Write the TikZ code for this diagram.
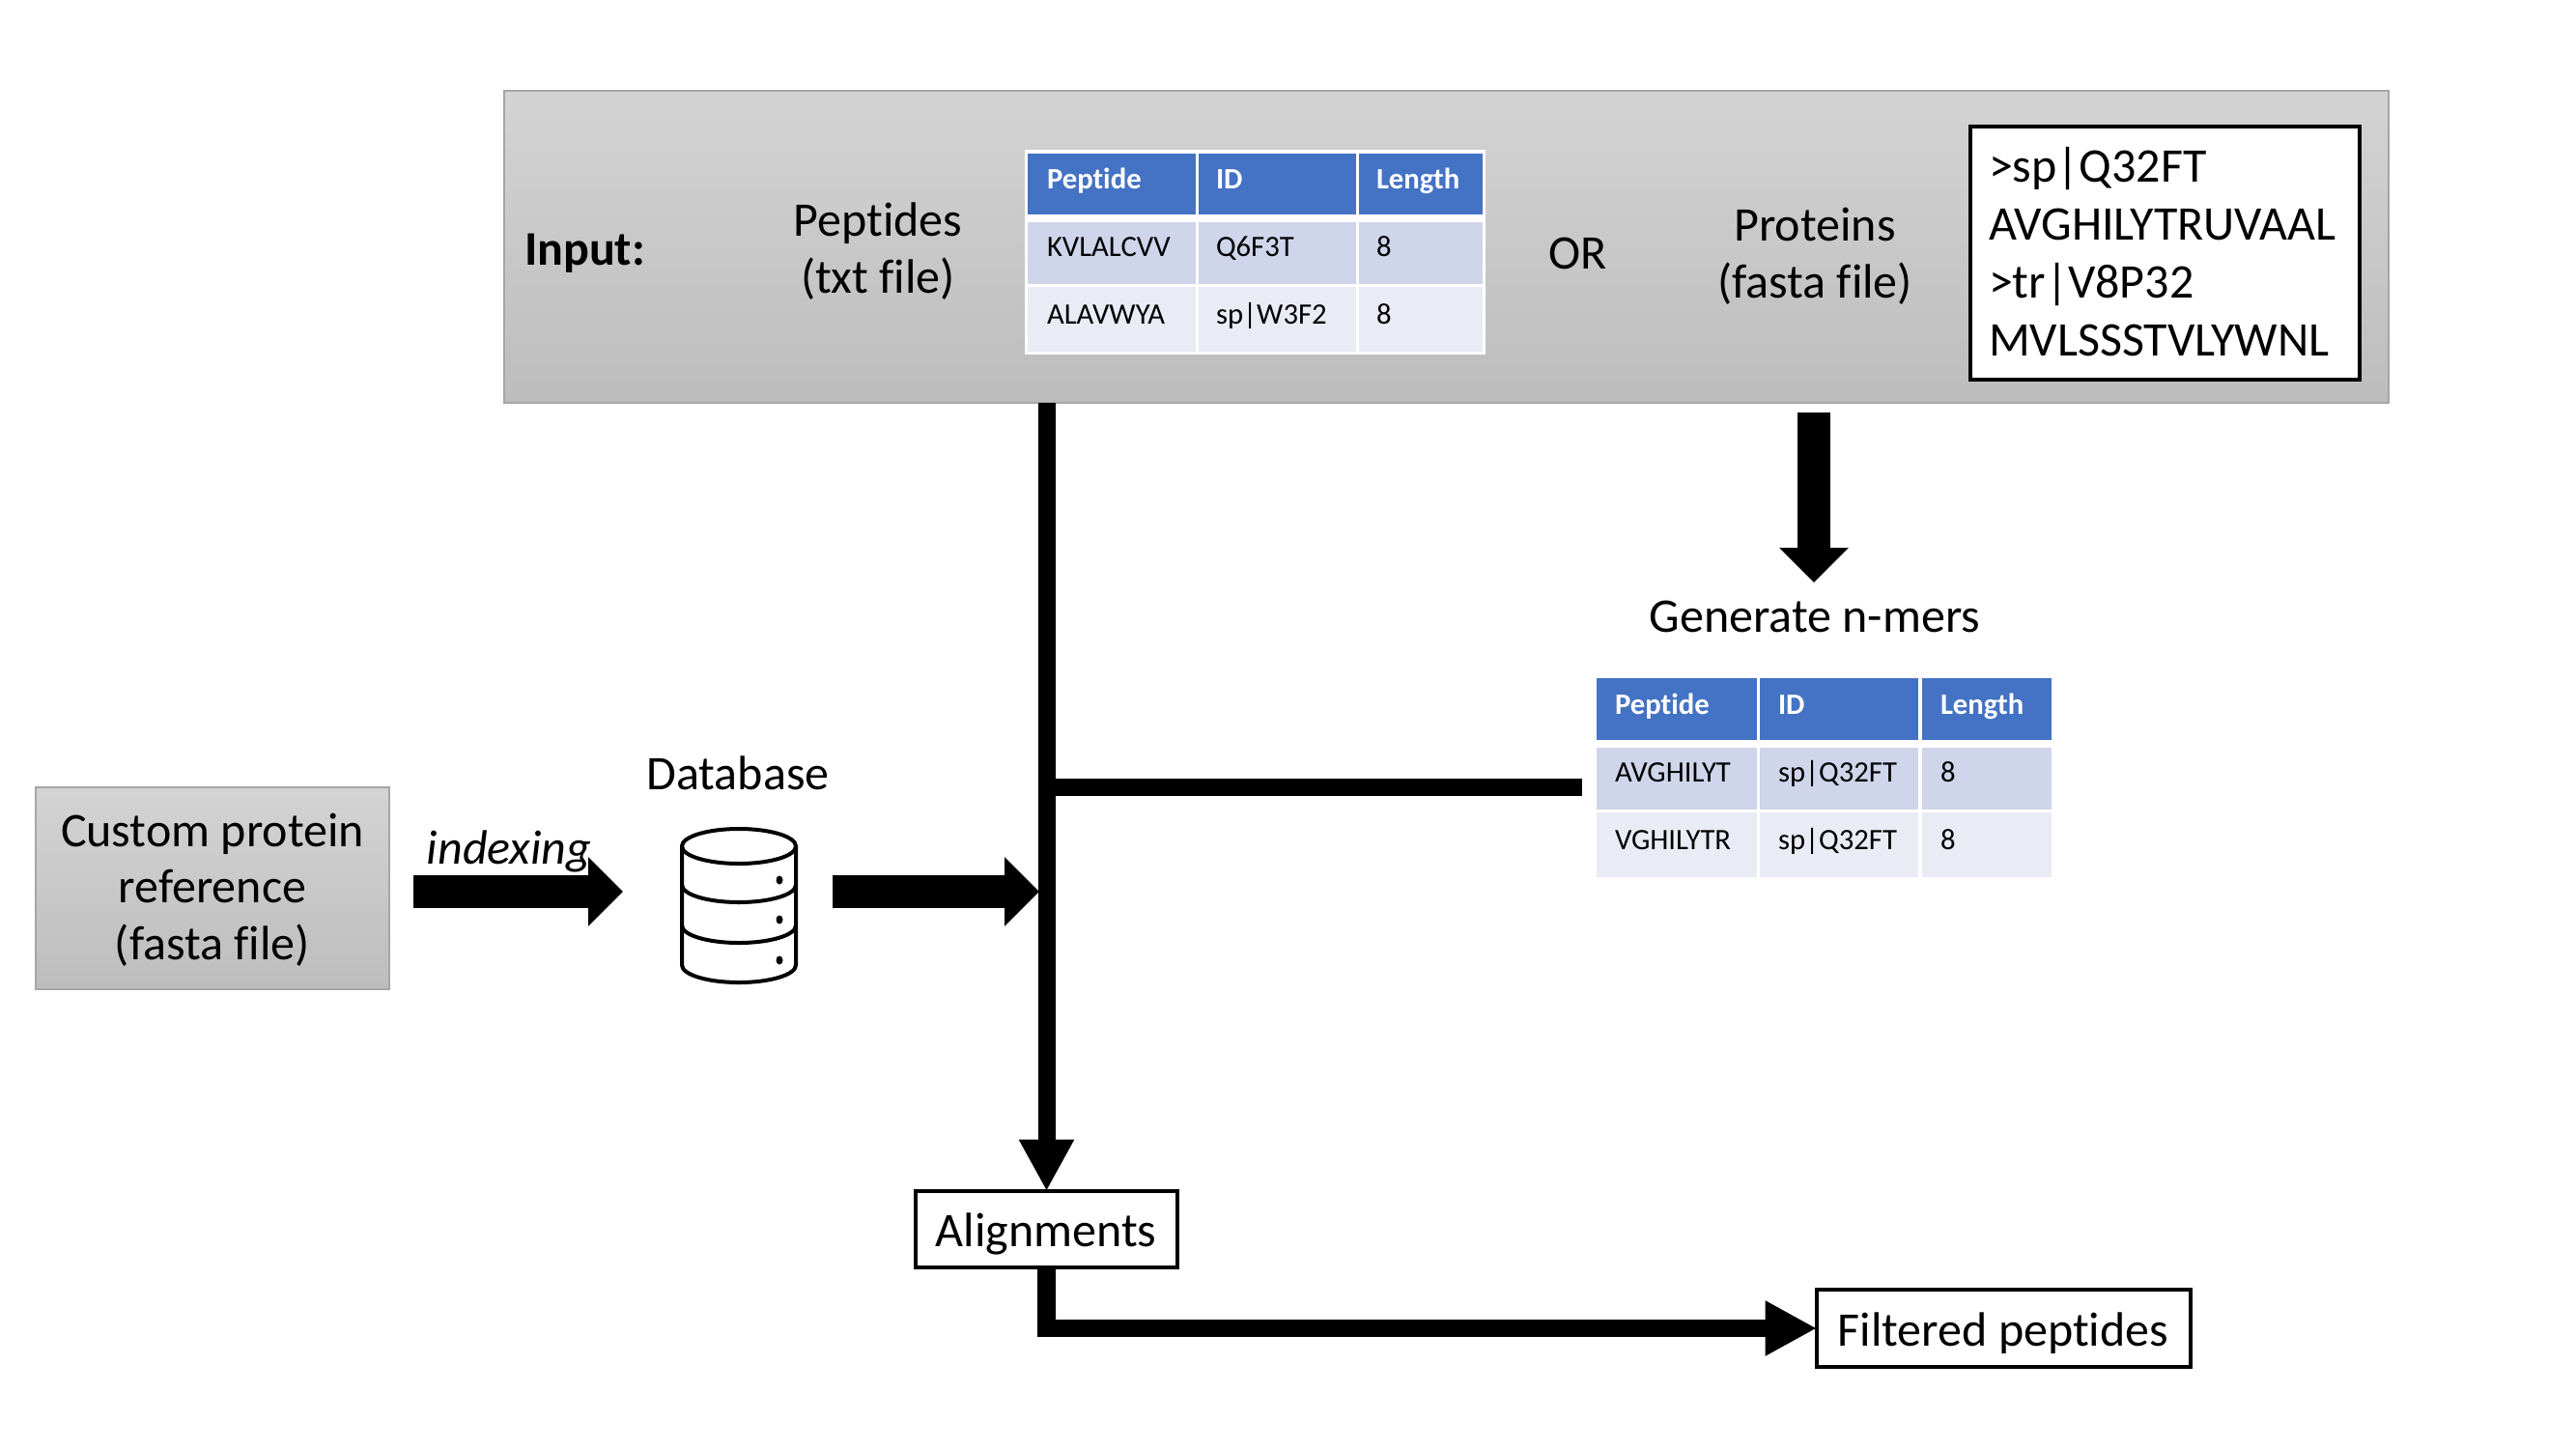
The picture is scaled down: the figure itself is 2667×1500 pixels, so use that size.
\documentclass[tikz,border=0pt]{standalone}
\usepackage{fontspec}
\setmainfont[Ligatures=NoCommon]{Carlito}
\usetikzlibrary{arrows.meta,shadings}
\definecolor{hdr}{HTML}{4472C4}
\definecolor{rowa}{HTML}{CFD5EA}
\definecolor{rowb}{HTML}{E9EBF5}
\newcommand{\pxbox}[6]{\node[#2,minimum width={(#5-#3)*0.75pt},minimum height={(#6-#4)*0.75pt}] (#1) at ({(#3+#5)/2},{(#4+#6)/2}) {};}
\tikzset{
  x=0.75pt,y=-0.75pt,
  every node/.style={inner sep=0pt,outer sep=0pt},
  greybox/.style={rectangle,draw=black!35,line width=1.2pt,top color=black!17,bottom color=black!26},
  linebox/.style={rectangle,draw=black,fill=white,line width=2.4pt},
  hcell/.style={rectangle,fill=hdr},
  acell/.style={rectangle,fill=rowa},
  bcell/.style={rectangle,fill=rowb},
  wback/.style={rectangle,fill=white},
  big/.style={font=\fontsize{37.5}{44}\selectfont,text=black},
  small/.style={font=\fontsize{23}{28}\selectfont,text=black,anchor=base west},
  hsmall/.style={small,font=\fontsize{23}{28}\selectfont\bfseries,text=white},
  thinflow/.style={line width=13.5pt,draw=black,-{Triangle[length=40pt,width=40pt,sep=0pt]}},
  plainflow/.style={line width=13.5pt,draw=black},
  fatflow/.style={line width=26pt,draw=black,-{Triangle[length=27pt,width=52pt,sep=0pt]}},
  cornerflow/.style={line width=14pt,draw=black,miter limit=10,-{Triangle[length=40pt,width=40pt,sep=0pt]}},
  dbline/.style={line width=3pt,draw=black,line cap=round,line join=round}
}
\begin{document}
\begin{tikzpicture}
\useasboundingbox (0,0) rectangle (2667,1500);
% ---- boxes
\pxbox{input}{greybox}{522}{94}{2473}{417}
\pxbox{custom}{greybox}{37}{815}{403}{1024}
\pxbox{fasta}{linebox}{2040}{131}{2443}{393}
\pxbox{align}{linebox}{948}{1233}{1219}{1312}
\pxbox{filtered}{linebox}{1881}{1335}{2268}{1415}
% ---- table 1
\pxbox{tawhite}{wback}{1061}{155}{1538}{367}
\pxbox{ta11}{hcell}{1064}{159}{1238}{222}
\pxbox{ta12}{hcell}{1241}{159}{1404}{222}
\pxbox{ta13}{hcell}{1407}{159}{1535}{222}
\pxbox{ta21}{acell}{1064}{230}{1238}{294}
\pxbox{ta22}{acell}{1241}{230}{1404}{294}
\pxbox{ta23}{acell}{1407}{230}{1535}{294}
\pxbox{ta31}{bcell}{1064}{297}{1238}{364}
\pxbox{ta32}{bcell}{1241}{297}{1404}{364}
\pxbox{ta33}{bcell}{1407}{297}{1535}{364}
\node[hsmall] (tah1) at (1084,195.5) {Peptide};
\node[hsmall] (tah2) at (1259,195.5) {ID};
\node[hsmall] (tah3) at (1425,195.5) {Length};
\node[small] (tar1) at (1084,265) {KVLALCVV};
\node[small] (tar2) at (1259,265) {Q6F3T};
\node[small] (tar3) at (1425,265) {8};
\node[small] (tas1) at (1084,335) {ALAVWYA};
\node[small] (tas2) at (1259,335) {sp|W3F2};
\node[small] (tas3) at (1425,335) {8};
% ---- table 2
\pxbox{tb11}{hcell}{1653}{702}{1819}{766}
\pxbox{tb12}{hcell}{1822}{702}{1986}{766}
\pxbox{tb13}{hcell}{1990}{702}{2124}{766}
\pxbox{tb21}{acell}{1653}{774}{1819}{838}
\pxbox{tb22}{acell}{1822}{774}{1986}{838}
\pxbox{tb23}{acell}{1990}{774}{2124}{838}
\pxbox{tb31}{bcell}{1653}{841}{1819}{908}
\pxbox{tb32}{bcell}{1822}{841}{1986}{908}
\pxbox{tb33}{bcell}{1990}{841}{2124}{908}
\node[hsmall] (tbh1) at (1672,739) {Peptide};
\node[hsmall] (tbh2) at (1841,739) {ID};
\node[hsmall] (tbh3) at (2009,739) {Length};
\node[small] (tbr1) at (1672,809) {AVGHILYT};
\node[small] (tbr2) at (1841,809) {sp|Q32FT};
\node[small] (tbr3) at (2009,809) {8};
\node[small] (tbs1) at (1672,879) {VGHILYTR};
\node[small] (tbs2) at (1841,879) {sp|Q32FT};
\node[small] (tbs3) at (2009,879) {8};
% ---- labels
\node[big,anchor=base west,font=\fontsize{37.5}{44}\selectfont\bfseries] (inputlabel) at (543,274) {Input:};
\node[big,align=center] (peptides) at (909,260) {Peptides\\(txt file)};
\node[big,anchor=base] (orlabel) at (1634,278) {OR};
\node[big,align=center] (proteins) at (1879,265) {Proteins\\(fasta file)};
\node[big,align=left,anchor=west,font=\fontsize{37.5}{45}\selectfont] (fastatext) at (2059,261) {>sp|Q32FT\\AVGHILYTRUVAAL\\>tr|V8P32\\MVLSSSTVLYWNL};
\node[big,anchor=base] (genlabel) at (1879,654) {Generate n-mers};
\node[big,align=center] (customtext) at (220,921) {Custom protein\\reference\\(fasta file)};
\node[big,anchor=base,font=\fontsize{37.5}{44}\selectfont\itshape] (indexing) at (527,894) {indexing};
\node[big,anchor=base] (dblabel) at (764,817) {Database};
\node[big,anchor=base] (aligntext) at (1083,1290) {Alignments};
\node[big,anchor=base] (filteredtext) at (2074,1393) {Filtered peptides};
% ---- database icon
\draw[dbline,fill=white] (706,876) arc[start angle=180,end angle=-180,x radius=59,y radius=18];
\draw[dbline] (706,876) -- (706,999) arc[start angle=180,end angle=0,x radius=59,y radius=18] -- (824,876);
\draw[dbline] (706,916) arc[start angle=180,end angle=0,x radius=59,y radius=18];
\draw[dbline] (706,958) arc[start angle=180,end angle=0,x radius=59,y radius=18];
\fill (807,911) circle[x radius=3.5,y radius=4.5];
\fill (807,952) circle[x radius=3.5,y radius=4.5];
\fill (807,994) circle[x radius=3.5,y radius=4.5];
% ---- connector ends
\coordinate (mainbranch) at (1083,815);
\coordinate (branchend) at (1638,815);
\coordinate (protstart) at (1878,427);
\coordinate (protend) at (1878,603);
\coordinate (customstart) at (428,923);
\coordinate (customend) at (645,923);
\coordinate (dbstart) at (862,923);
\coordinate (dbend) at (1076,923);
% ---- connectors
\draw[thinflow] (align.north |- input.south) -- (align.north);
\draw[plainflow] (mainbranch) -- (branchend);
\draw[fatflow] (protstart) -- (protend);
\draw[fatflow] (customstart) -- (customend);
\draw[fatflow] (dbstart) -- (dbend);
\draw[cornerflow] (align.south) |- (filtered.west);
\end{tikzpicture}
\end{document}
